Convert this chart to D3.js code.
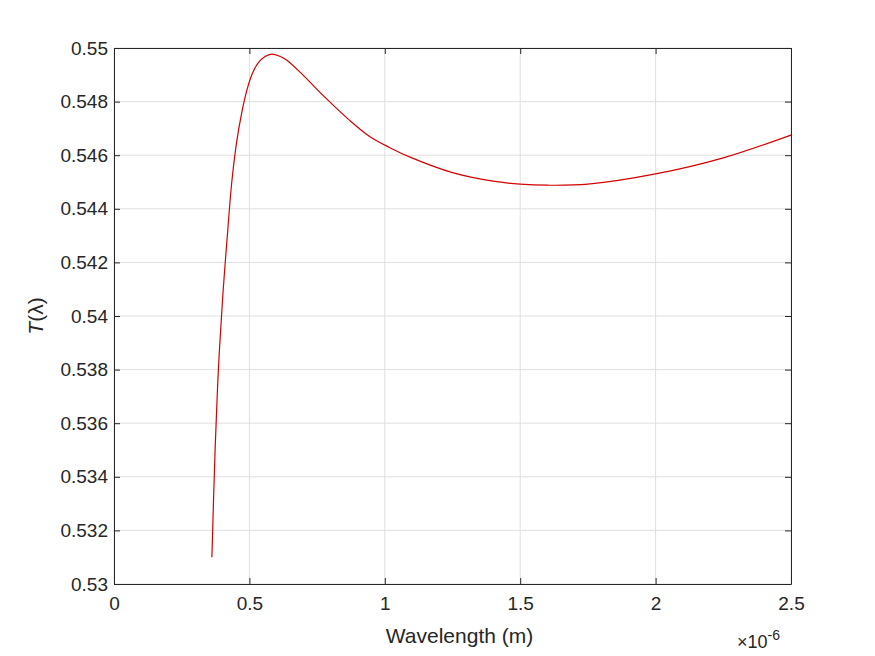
<!DOCTYPE html>
<html><head><meta charset="utf-8">
<script src="https://cdn.jsdelivr.net/npm/d3@7"></script>
<style>body{margin:0;background:#fff}</style></head>
<body><div id="chart"></div>
<script>
var width = 875, height = 656;
var margin = {left: 114, top: 48, right: 84, bottom: 72};

// wavelength in micrometres (axis shows x 10^-6 m)
var wavelength = [0.3615,0.374,0.386,0.402,0.417,0.435,0.453,0.472,0.490,0.509,0.533,0.558,0.582,0.610,0.637,0.699,0.772,0.870,0.944,1.015,1.1,1.25,1.4,1.5,1.6,1.75,2.0,2.25,2.5];
var transmit   = [0.5310,0.5352,0.5381,0.5408,0.5428,0.5450,0.5465,0.5476,0.5484,0.5490,0.54945,0.54968,0.54977,0.54970,0.54955,0.54898,0.54823,0.5473,0.5467,0.5463,0.5459,0.54535,0.54503,0.54492,0.54488,0.54492,0.5453,0.5459,0.54675];
var xTicks = [0, 0.5, 1, 1.5, 2, 2.5];
var yTicks = [0.53,0.532,0.534,0.536,0.538,0.54,0.542,0.544,0.546,0.548,0.55];

var w = width - margin.left - margin.right,
    h = height - margin.top - margin.bottom;

var svg = d3.select("#chart").append("svg")
    .attr("width", width).attr("height", height)
    .style("font-family", "'Liberation Sans', Arial, sans-serif");
var g = svg.append("g").attr("transform", "translate(" + margin.left + "," + margin.top + ")");

var x = d3.scaleLinear().domain([0, 2.5]).range([0, w]);
var y = d3.scaleLinear().domain([0.53, 0.55]).range([h, 0]);

/* grid */
g.selectAll(".gx").data(xTicks).enter().append("line")
    .attr("x1", d => x(d)).attr("x2", d => x(d)).attr("y1", 0).attr("y2", h)
    .style("stroke", "#dfdfdf");
g.selectAll(".gy").data(yTicks).enter().append("line")
    .attr("y1", d => y(d)).attr("y2", d => y(d)).attr("x1", 0).attr("x2", w)
    .style("stroke", "#dfdfdf");

/* curve */
g.append("path").datum(wavelength.map((d, i) => [d, transmit[i]]))
    .attr("d", d3.line().x(d => x(d[0])).y(d => y(d[1])).curve(d3.curveCatmullRom.alpha(0.5)))
    .style("fill", "none").style("stroke", "#d40000").style("stroke-width", 1.2);

/* axes */
var fmtY = d => String(+d.toFixed(3));
var ax = g.append("g").attr("transform", "translate(0," + h + ")")
    .call(d3.axisBottom(x).tickValues(xTicks).tickSize(-6).tickSizeOuter(0).tickFormat(d => String(d)));
var axT = g.append("g").call(d3.axisTop(x).tickValues(xTicks).tickSize(-6).tickSizeOuter(0).tickFormat(""));
var ay = g.append("g").call(d3.axisLeft(y).tickValues(yTicks).tickSize(-6).tickSizeOuter(0).tickFormat(fmtY));
var ayR = g.append("g").attr("transform", "translate(" + w + ",0)")
    .call(d3.axisRight(y).tickValues(yTicks).tickSize(-6).tickSizeOuter(0).tickFormat(""));
[ax, axT, ay, ayR].forEach(a => {
  a.selectAll("path,line").style("stroke", "#262626");
  a.selectAll("text").style("font-size", "19px").style("fill", "#262626").style("font-family", "'Liberation Sans', Arial, sans-serif");
});
ax.selectAll("text").attr("dy", "1em").attr("y", 7);
ay.selectAll("text").attr("x", -6);

/* labels */
svg.append("text").attr("x", margin.left + w / 2 + 7).attr("y", 643)
    .attr("text-anchor", "middle").style("font-size", "21px").style("fill", "#262626")
    .text("Wavelength (m)");
svg.append("text").attr("transform", "translate(43," + (margin.top + h / 2) + ") rotate(-90)")
    .attr("text-anchor", "middle").style("font-size", "21px").style("fill", "#262626")
    .html('<tspan font-style="italic">T</tspan>(λ)');
var ex = svg.append("text").attr("x", 737).attr("y", 648).style("fill", "#262626").style("font-size", "18px");
ex.append("tspan").text("×10");
ex.append("tspan").attr("dy", -8).style("font-size", "14px").text("-6");
</script></body></html>
